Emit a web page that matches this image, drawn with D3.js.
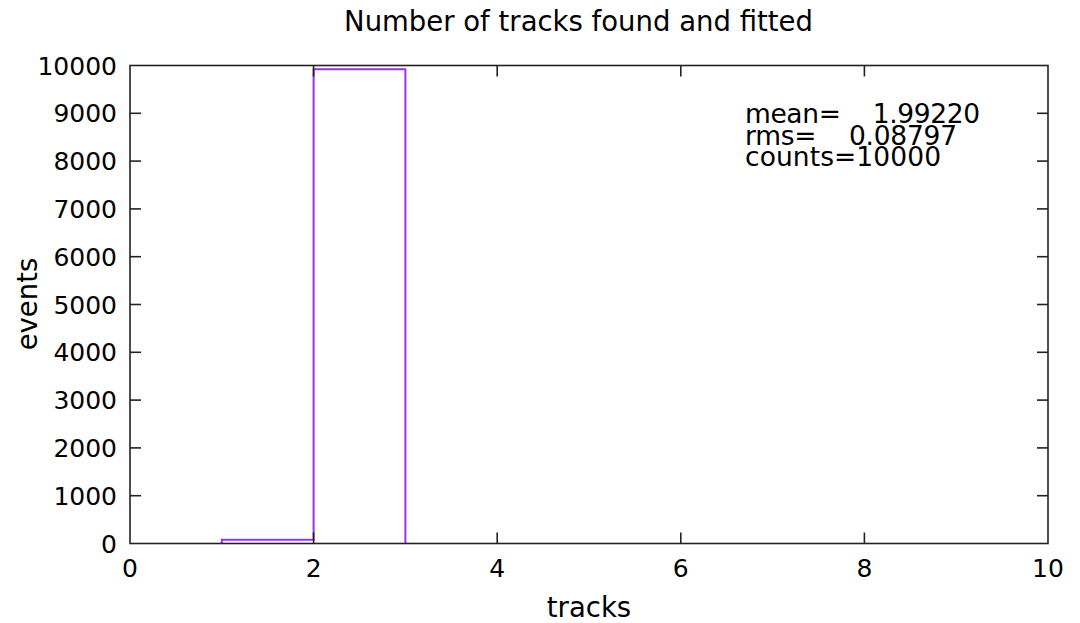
<!DOCTYPE html>
<html>
<head>
<meta charset="utf-8">
<script src="https://cdn.jsdelivr.net/npm/d3@7"></script>
<style>
  html, body { margin: 0; padding: 0; background: #fff; }
  svg text { font-family: "DejaVu Sans", Verdana, sans-serif; fill: #000; }
</style>
</head>
<body>
<div id="chart"></div>
<script>
// histogram bins: left edge of each unit-wide bin and its count
const binStarts = [0, 1, 2, 3, 4, 5, 6, 7, 8, 9];
const binCounts = [0, 78, 9922, 0, 0, 0, 0, 0, 0, 0];
const xTicks = [0, 2, 4, 6, 8, 10];
const yTicks = [0, 1000, 2000, 3000, 4000, 5000, 6000, 7000, 8000, 9000, 10000];
const statLines = ["mean=    1.99220", "rms=    0.08797", "counts=10000"];
const title = "Number of tracks found and fitted";
const xLabel = "tracks";
const yLabel = "events";

const W = 1080, H = 623;
const MARGIN = { top: 65.5, right: 32, bottom: 79.5, left: 130 };
const innerW = W - MARGIN.left - MARGIN.right;
const innerH = H - MARGIN.top - MARGIN.bottom;
const TICK = 11;
const FONT = 25;       // tick labels
const LABEL_FONT = 27.5;
const STAT_FONT = 26.5;

const svg = d3.select("#chart")
  .append("svg")
  .attr("width", W)
  .attr("height", H);

const g = svg.append("g")
  .attr("transform", `translate(${MARGIN.left},${MARGIN.top})`);

const x = d3.scaleLinear().domain([0, 10]).range([0, innerW]);
const y = d3.scaleLinear().domain([0, 10000]).range([innerH, 0]);

// ── Histogram step line (only over the filled bins) ──
const first = binCounts.findIndex(c => c > 0);
const last  = binCounts.length - 1 - [...binCounts].reverse().findIndex(c => c > 0);
const steps = [[binStarts[first], 0]];
for (let i = first; i <= last; i++) {
  steps.push([binStarts[i], binCounts[i]]);
  steps.push([binStarts[i] + 1, binCounts[i]]);
}
steps.push([binStarts[last] + 1, 0]);

const line = d3.line()
  .x(d => x(d[0]))
  .y(d => y(d[1]));

g.append("path")
  .datum(steps)
  .attr("fill", "none")
  .attr("stroke", "#9b30e6")
  .attr("stroke-width", 2)
  .attr("d", line);

// ── Ticks (inward, mirrored) ──
const tickG = g.append("g").attr("stroke", "#222").attr("stroke-width", 1.6);

tickG.selectAll("line.xb")
  .data(xTicks.slice(1, -1))
  .join("line")
  .attr("x1", d => x(d)).attr("x2", d => x(d))
  .attr("y1", innerH).attr("y2", innerH - TICK);

tickG.selectAll("line.xt")
  .data(xTicks.slice(1, -1))
  .join("line")
  .attr("x1", d => x(d)).attr("x2", d => x(d))
  .attr("y1", 0).attr("y2", TICK);

tickG.selectAll("line.yl")
  .data(yTicks.slice(1, -1))
  .join("line")
  .attr("x1", 0).attr("x2", TICK)
  .attr("y1", d => y(d)).attr("y2", d => y(d));

tickG.selectAll("line.yr")
  .data(yTicks.slice(1, -1))
  .join("line")
  .attr("x1", innerW).attr("x2", innerW - TICK)
  .attr("y1", d => y(d)).attr("y2", d => y(d));

// border on top of the data
g.append("rect")
  .attr("width", innerW)
  .attr("height", innerH)
  .attr("fill", "none")
  .attr("stroke", "#222")
  .attr("stroke-width", 1.6);

// ── Tick labels ──
g.selectAll("text.xl")
  .data(xTicks)
  .join("text")
  .attr("x", d => x(d))
  .attr("y", innerH + 33)
  .style("font-size", FONT + "px")
  .style("text-anchor", "middle")
  .text(d => d);

g.selectAll("text.yl")
  .data(yTicks)
  .join("text")
  .attr("x", -13)
  .attr("y", d => y(d) + 9)
  .style("font-size", FONT + "px")
  .style("text-anchor", "end")
  .text(d => d);

// ── Titles ──
svg.append("text")
  .attr("x", 578.5)
  .attr("y", 31)
  .style("font-size", LABEL_FONT + "px")
  .style("text-anchor", "middle")
  .text(title);

svg.append("text")
  .attr("x", 589)
  .attr("y", 617)
  .style("font-size", LABEL_FONT + "px")
  .style("text-anchor", "middle")
  .text(xLabel);

svg.append("text")
  .attr("transform", "translate(37,304) rotate(-90)")
  .style("font-size", LABEL_FONT + "px")
  .style("text-anchor", "middle")
  .text(yLabel);

// ── Stats box ──
const statW = [235, 212, 196];
svg.append("g")
  .selectAll("text")
  .data(statLines)
  .join("text")
  .attr("x", 745)
  .attr("y", (_, i) => 123 + i * 21.5)
  .attr("textLength", (_, i) => statW[i])
  .attr("xml:space", "preserve")
  .style("white-space", "pre")
  .style("font-size", STAT_FONT + "px")
  .text(d => d);
</script>
</body>
</html>
